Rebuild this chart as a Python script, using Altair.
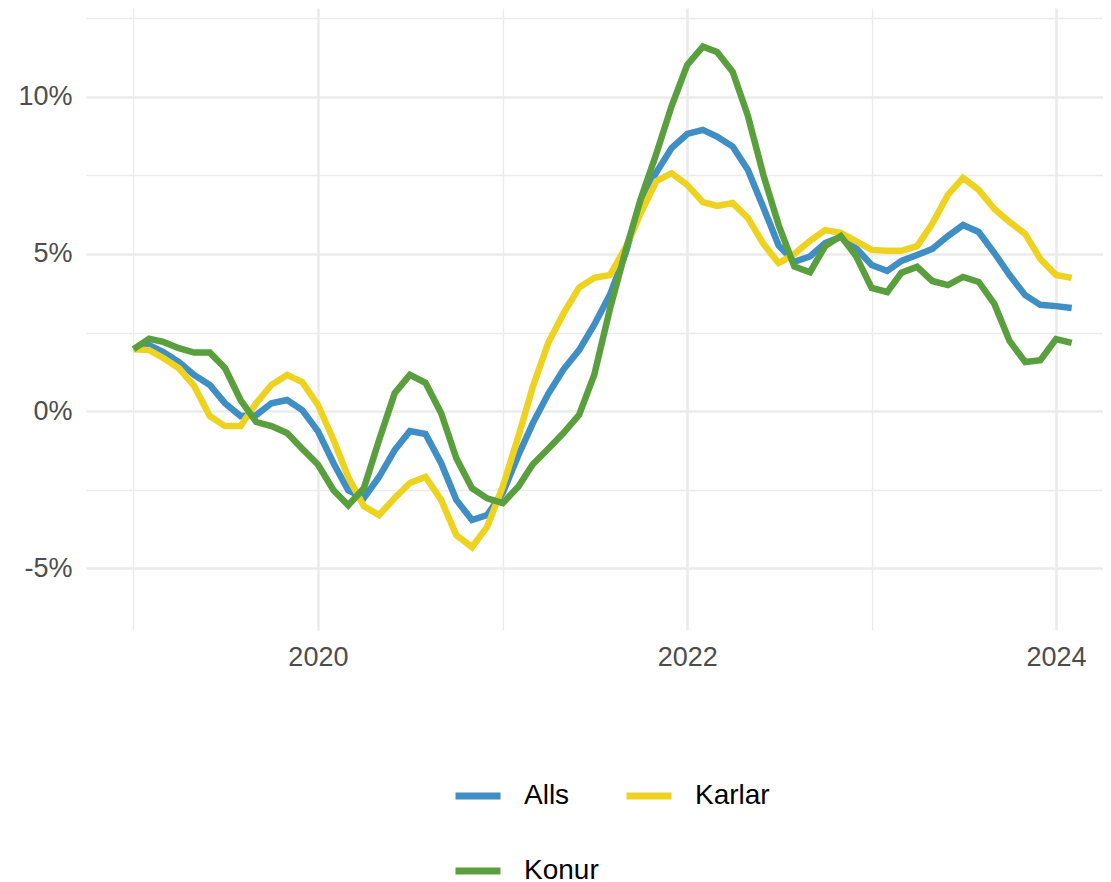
import altair as alt
import pandas as pd

# Monthly values, Jan 2019 .. Feb 2024 (percent, 12-month change)
start_month = "2019-01-01"
n_months = 62

alls = [1.97, 2.10, 1.88, 1.56, 1.15, 0.83, 0.25, -0.16, -0.13, 0.25, 0.35, 0.03,
        -0.64, -1.66, -2.52, -2.77, -2.10, -1.24, -0.64, -0.73, -1.66, -2.83, -3.47, -3.31,
        -2.60, -1.40, -0.40, 0.55, 1.32, 1.94, 2.75, 3.70, 5.02, 6.69, 7.60, 8.37,
        8.82, 8.95, 8.74, 8.42, 7.68, 6.47, 5.27, 4.75, 4.92, 5.35, 5.54, 5.19,
        4.65, 4.46, 4.78, 4.97, 5.16, 5.57, 5.92, 5.70, 5.03, 4.33, 3.69, 3.38,
        3.34, 3.28]

karlar = [1.97, 1.94, 1.69, 1.36, 0.80, -0.16, -0.48, -0.48, 0.25, 0.83, 1.15, 0.92,
          0.20, -0.92, -2.10, -3.03, -3.31, -2.77, -2.29, -2.10, -2.83, -3.95, -4.33, -3.69,
          -2.40, -0.80, 0.75, 2.17, 3.10, 3.93, 4.24, 4.33, 5.20, 6.30, 7.32, 7.57,
          7.20, 6.65, 6.53, 6.62, 6.15, 5.32, 4.71, 5.00, 5.42, 5.76, 5.67, 5.41,
          5.13, 5.10, 5.10, 5.25, 5.96, 6.88, 7.42, 7.04, 6.43, 6.02, 5.64, 4.84,
          4.33, 4.24]

konur = [1.97, 2.30, 2.20, 2.00, 1.86, 1.86, 1.37, 0.35, -0.35, -0.48, -0.70, -1.20,
         -1.70, -2.52, -3.00, -2.46, -0.93, 0.57, 1.15, 0.90, -0.07, -1.50, -2.46, -2.78,
         -2.93, -2.40, -1.70, -1.20, -0.70, -0.12, 1.15, 3.25, 5.10, 6.75, 8.20, 9.70,
         11.02, 11.60, 11.43, 10.80, 9.40, 7.50, 5.92, 4.60, 4.42, 5.25, 5.57, 4.94,
         3.92, 3.79, 4.40, 4.59, 4.14, 4.01, 4.27, 4.11, 3.41, 2.23, 1.56, 1.62,
         2.29, 2.17]

series_names = ["Alls", "Karlar", "Konur"]
series_colors = ["#3F8EC4", "#EDD320", "#5A9F3D"]

y_ticks = [-5, -2.5, 0, 2.5, 5, 7.5, 10, 12.5]
x_tick_years = [2019, 2020, 2021, 2022, 2023, 2024]

months = pd.date_range(start_month, periods=n_months, freq="MS")
frames = []
for name, vals in zip(series_names, [alls, karlar, konur]):
    frames.append(pd.DataFrame({"date": months, "value": vals, "series": name}))
df = pd.concat(frames, ignore_index=True)

x_axis = alt.Axis(
    values=[alt.DateTime(year=y, month=1, date=1) for y in x_tick_years],
    labelExpr="year(datum.value) % 2 === 0 ? timeFormat(datum.value, '%Y') : ''",
    gridWidth={"condition": {"test": "year(datum.value) % 2 === 0", "value": 2.6}, "value": 1.3},
    title=None,
    labelPadding=14,
    labelFlush=False,
    domain=False,
    ticks=False,
)

y_axis = alt.Axis(
    values=y_ticks,
    labelExpr="datum.value % 5 === 0 ? datum.value + '%' : ''",
    gridWidth={"condition": {"test": "datum.value % 5 === 0", "value": 2.6}, "value": 1.3},
    title=None,
    labelPadding=14,
    domain=False,
    ticks=False,
)

chart = (
    alt.Chart(df)
    .mark_line(strokeWidth=6.5)
    .encode(
        x=alt.X(
            "date:T",
            axis=x_axis,
            scale=alt.Scale(
                domain=[alt.DateTime(year=2018, month=9, date=29),
                        alt.DateTime(year=2024, month=4, date=3)],
                nice=False,
            ),
        ),
        y=alt.Y(
            "value:Q",
            axis=y_axis,
            scale=alt.Scale(domain=[-6.97, 12.83], nice=False, zero=False),
        ),
        color=alt.Color(
            "series:N",
            scale=alt.Scale(domain=series_names, range=series_colors),
            legend=alt.Legend(
                title=None,
                orient="none",
                legendX=366,
                legendY=762,
                direction="horizontal",
                columns=2,
                symbolType="stroke",
                symbolSize=2025,
                symbolStrokeWidth=7,
                labelFontSize=28,
                labelFont="Liberation Sans",
                labelColor="#000000",
                labelOffset=20,
                columnPadding=13,
                rowPadding=35,
                padding=0,
            ),
        ),
        order=alt.Order("series:N"),
    )
    .properties(
        width=1017,
        height=622,
        background="white",
        autosize=alt.AutoSizeParams(type="none"),
        padding={"left": 78, "top": 0, "right": 0, "bottom": 252},
    )
    .configure_view(stroke=None)
    .configure_axis(
        domain=False,
        ticks=False,
        gridColor="#EBEBEB",
        labelFont="Liberation Sans",
        labelFontSize=27,
        labelColor="#4D4D4D",
    )
)

chart.save("out.html", embed_options={"renderer": "svg", "actions": False})
